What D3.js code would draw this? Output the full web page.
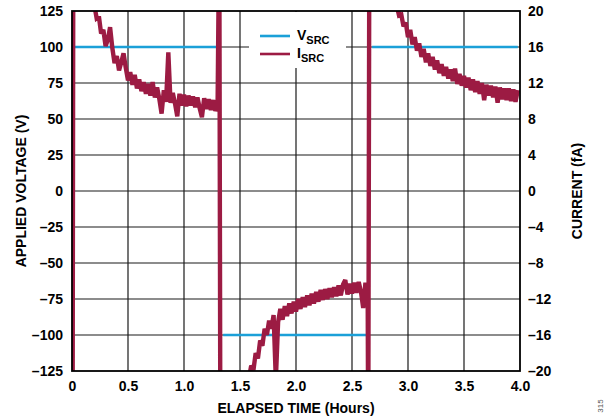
<!DOCTYPE html>
<html>
<head>
<meta charset="utf-8">
<script src="https://cdn.jsdelivr.net/npm/d3@7"></script>
<style>
  body { margin: 0; background: #fff; }
  svg { display: block; font-family: 'Liberation Sans', Arial, sans-serif; font-weight: bold; }
  .tick text { font-size: 14px; fill: #000; }
</style>
</head>
<body>
<svg width="608" height="418"></svg>
<script>
// axis ticks
let timeTicks = [0, 0.5, 1.0, 1.5, 2.0, 2.5, 3.0, 3.5, 4.0];
let voltTicks = [-125, -100, -75, -50, -25, 0, 25, 50, 75, 100, 125];
let currTicks = [-20, -16, -12, -8, -4, 0, 4, 8, 12, 16, 20];

// V_SRC: applied voltage steps [hours, volts], null breaks the line
let voltage = [
  [0.01, 100], [1.31, 100], null,
  [1.35, -100], [2.64, -100], null,
  [2.68, 100], [3.98, 100]
];

// I_SRC samples (fA), one every 0.02 h from the segment start
let sampleStep = 0.02;
let seg1Start = 0.20;
let seg1Current = [20.6, 19.2, 19.4, 17.5, 17.9, 16.1, 16.8, 18.2, 15.9, 14.2,
  15.0, 13.4, 14.3, 15.3, 13.7, 12.3, 13.2, 11.8, 12.9, 11.4,
  12.4, 11.1, 12.1, 10.8, 11.9, 10.6, 12.1, 10.4, 11.5, 10.2,
  8.6, 11.2, 9.9, 15.4, 9.8, 10.9, 9.7, 8.3, 10.8, 9.5,
  10.7, 9.4, 10.6, 9.5, 10.5, 9.3, 10.4, 9.2, 8.2, 10.3,
  9.1, 10.2, 9.0, 10.1, 8.9, 9.6];
let seg2Start = 1.56;
let seg2Current = [-21.5, -20.8, -19.4, -19.9, -18.0, -18.6, -16.6, -17.2, -15.3, -16.0,
  -14.4, -15.3, -13.8, -21.0, -14.6, -13.1, -14.3, -12.8, -13.9, -12.5,
  -13.6, -12.3, -13.4, -12.0, -13.1, -11.8, -12.9, -11.6, -12.7, -11.4,
  -12.5, -11.2, -12.3, -11.0, -12.1, -10.9, -12.0, -10.8, -11.8, -10.7,
  -11.7, -10.5, -11.6, -10.4, -9.9, -11.5, -10.3, -11.4, -10.2, -11.3,
  -10.1, -11.2, -13.0, -10.2, -11.0];
let seg3Start = 2.90;
let seg3Current = [20.6, 19.5, 19.6, 18.3, 18.7, 17.1, 17.9, 16.3, 17.1, 15.6,
  16.4, 14.9, 15.8, 14.3, 15.3, 13.9, 14.9, 13.5, 14.5, 13.1,
  14.1, 12.8, 13.8, 12.5, 13.5, 12.2, 13.6, 11.9, 13.0, 11.7,
  12.8, 11.5, 12.6, 11.2, 12.4, 11.0, 12.2, 10.8, 12.0, 10.1,
  11.8, 10.6, 11.7, 10.4, 11.6, 9.8, 11.5, 10.2, 11.4, 10.1,
  11.4, 10.0, 11.3, 9.9, 11.2];

// switching transients [hours, fA], they run off the scale
let switchPoints = [
  [0.005, -30], [0.012, 30], [0.15, 30],
  [1.315, 30], [1.325, -30], [1.45, -30],
  [2.645, -30], [2.655, 30], [2.78, 30]
];

let svg = d3.select('svg');
let margin = {top: 11, right: 88, bottom: 47, left: 72};
let width = 608 - margin.left - margin.right,
  height = 418 - margin.top - margin.bottom;

let x = d3.scaleLinear().domain([0, 4]).range([0, width]);
let yV = d3.scaleLinear().domain([-125, 125]).range([height, 0]);
let yI = d3.scaleLinear().domain([-20, 20]).range([height, 0]);

let g = svg.append('g').attr('transform', 'translate(' + margin.left + ',' + margin.top + ')');

g.append('clipPath').attr('id', 'plot')
  .append('rect').attr('width', width).attr('height', height);

// grid
g.append('g').selectAll('line')
  .data(timeTicks.slice(1, -1))
  .enter().append('line')
  .attr('x1', function(d) { return x(d); }).attr('x2', function(d) { return x(d); })
  .attr('y1', 0).attr('y2', height)
  .attr('stroke', '#1a1a1a').attr('stroke-width', 1.2);

g.append('g').selectAll('line')
  .data(voltTicks.slice(1, -1))
  .enter().append('line')
  .attr('x1', 0).attr('x2', width)
  .attr('y1', function(d) { return yV(d); }).attr('y2', function(d) { return yV(d); })
  .attr('stroke', '#1a1a1a').attr('stroke-width', 1.2);

// legend box knocks out the grid
g.append('rect')
  .attr('x', 177).attr('y', 1).attr('width', 97).attr('height', 56)
  .attr('fill', '#fff');

// axes (labels only)
let xAxis = g.append('g').attr('transform', 'translate(0,' + height + ')')
  .call(d3.axisBottom(x).tickValues(timeTicks)
    .tickFormat(function(d) { return d === 0 ? '0' : d3.format('.1f')(d); })
    .tickSize(0).tickPadding(10));
let leftAxis = g.append('g')
  .call(d3.axisLeft(yV).tickValues(voltTicks)
    .tickFormat(function(d) { return d < 0 ? '\u2013' + (-d) : d; })
    .tickSize(0).tickPadding(9));
let rightAxis = g.append('g').attr('transform', 'translate(' + width + ',0)')
  .call(d3.axisRight(yI).tickValues(currTicks)
    .tickFormat(function(d) { return d < 0 ? '\u2013' + (-d) : d; })
    .tickSize(0).tickPadding(8));
[xAxis, leftAxis, rightAxis].forEach(function(a) { a.select('.domain').remove(); });

// series
let current = [];
seg1Current.forEach(function(v, i) { current.push([seg1Start + i * sampleStep, v]); });
seg2Current.forEach(function(v, i) { current.push([seg2Start + i * sampleStep, v]); });
seg3Current.forEach(function(v, i) { current.push([seg3Start + i * sampleStep, v]); });
current = current.concat(switchPoints).sort(function(a, b) { return a[0] - b[0]; });

let plot = g.append('g').attr('clip-path', 'url(#plot)');

plot.append('path')
  .datum(voltage)
  .attr('fill', 'none').attr('stroke', '#1ba0d8').attr('stroke-width', 2.6)
  .attr('d', d3.line()
    .defined(function(d) { return d !== null; })
    .x(function(d) { return x(d[0]); })
    .y(function(d) { return yV(d[1]); }));

plot.append('path')
  .datum(current)
  .attr('fill', 'none').attr('stroke', '#9c1b43').attr('stroke-width', 4.4)
  .attr('stroke-linejoin', 'miter').attr('stroke-miterlimit', 2)
  .attr('d', d3.line()
    .x(function(d) { return x(d[0]); })
    .y(function(d) { return yI(d[1]); }));

// frame
g.append('rect').attr('width', width).attr('height', height)
  .attr('fill', 'none').attr('stroke', '#000').attr('stroke-width', 1.8);

// legend
let legend = g.append('g').attr('transform', 'translate(188,0)');
let legendItems = [
  {name: 'V', sub: 'SRC', color: '#1ba0d8', y: 25},
  {name: 'I', sub: 'SRC', color: '#9c1b43', y: 43}
];
legendItems.forEach(function(d) {
  legend.append('line')
    .attr('x1', 0).attr('x2', 30).attr('y1', d.y).attr('y2', d.y)
    .attr('stroke', d.color).attr('stroke-width', 2.6);
  let t = legend.append('text').attr('x', 37).attr('y', d.y + 4)
    .attr('font-size', 14).text(d.name);
  t.append('tspan').attr('dy', 4).attr('font-size', 11).text(d.sub);
});

// axis titles
svg.append('text')
  .attr('transform', 'translate(26,' + (margin.top + height / 2) + ') rotate(-90)')
  .attr('text-anchor', 'middle').attr('font-size', 14)
  .text('APPLIED VOLTAGE (V)');
svg.append('text')
  .attr('transform', 'translate(582,' + (margin.top + height / 2) + ') rotate(-90)')
  .attr('text-anchor', 'middle').attr('font-size', 14)
  .text('CURRENT (fA)');
svg.append('text')
  .attr('x', margin.left + width / 2).attr('y', 413)
  .attr('text-anchor', 'middle').attr('font-size', 14)
  .text('ELAPSED TIME (Hours)');
svg.append('text')
  .attr('transform', 'translate(603,406) rotate(-90)')
  .attr('text-anchor', 'middle').attr('font-size', 8)
  .attr('font-weight', 'normal').attr('fill', '#555')
  .text('315');
</script>
</body>
</html>
